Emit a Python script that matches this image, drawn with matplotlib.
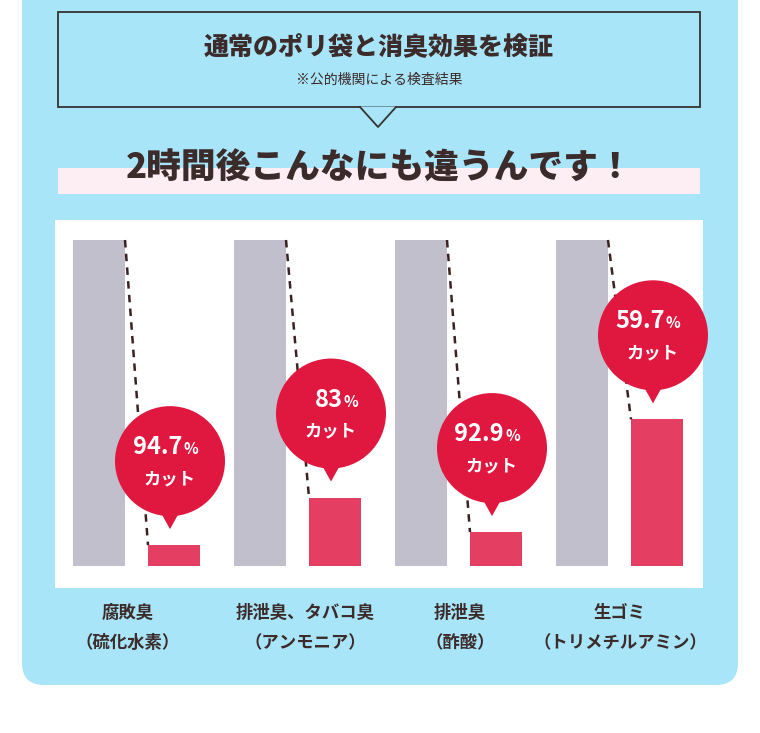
import matplotlib
matplotlib.use("Agg")
import matplotlib.pyplot as plt
from matplotlib.patches import FancyBboxPatch, Rectangle, Circle, Polygon

plt.rcParams['font.family'] = ['Noto Sans CJK JP', 'DejaVu Sans']

# data
categories = [("腐敗臭", "（硫化水素）"), ("排泄臭、タバコ臭", "（アンモニア）"),
              ("排泄臭", "（酢酸）"), ("生ゴミ", "（トリメチルアミン）")]
cut_labels = ["94.7", "83", "92.9", "59.7"]
normal = [100, 100, 100, 100]
remaining = [6.4, 21, 10.4, 45]   # bar heights as drawn, % of normal bag

BLUE = "#a9e5f8"
RED = "#e0173f"
PINK = "#e43f62"
GRAY = "#c1bfcb"
DARK = "#3b2b2b"

fig = plt.figure(figsize=(7.6, 7.33), dpi=100)
ax = fig.add_axes([0, 0, 1, 1])
ax.set_xlim(0, 760)
ax.set_ylim(733, 0)
ax.axis("off")

# background panel
ax.add_patch(FancyBboxPatch((22, -40), 716, 725, boxstyle="round,pad=0,rounding_size=22",
                            fc=BLUE, ec="none"))

# title box with pointer
ax.add_patch(Rectangle((58, 12), 642, 95, fc=BLUE, ec="#333333", lw=1.3))
ax.add_patch(Polygon([(360, 106.5), (396, 106.5), (378, 127)], closed=True, fc=BLUE, ec="none", zorder=3))
ax.plot([360, 378, 396], [107, 127, 107], color="#333333", lw=1.3, zorder=4)
ax.text(379, 47, "通常のポリ袋と消臭効果を検証", ha="center", va="center",
        fontsize=18, fontweight="heavy", color=DARK)
ax.text(379, 80, "※公的機関による検査結果", ha="center", va="center", fontsize=10, color=DARK)

# headline
ax.add_patch(Rectangle((58, 168), 642, 26, fc="#fdeef3", ec="none"))
ax.text(380, 168, "2時間後こんなにも違うんです！", ha="center", va="center",
        fontsize=25, fontweight="heavy", color=DARK)

# chart area
ax.add_patch(Rectangle((55, 220), 648, 368, fc="white", ec="none"))
base, top = 566, 240
scale = (base - top) / 100.0
step, x0, off, w = 161, 99, 75, 52

for i, (n, r) in enumerate(zip(normal, remaining)):
    gx = x0 + i * step
    px = gx + off
    gh = n * scale
    ph = r * scale
    ax.add_patch(Rectangle((gx - w / 2, base - gh), w, gh, fc=GRAY, ec="none"))
    ax.add_patch(Rectangle((px - w / 2, base - ph), w, ph, fc=PINK, ec="none"))
    ax.plot([gx + w / 2, px - w / 2], [base - gh, base - ph], color="#3b2222",
            lw=1.8, ls=(0, (3, 2.5)))
    # speech bubble
    cx = px - 4
    cy = base - ph - 84
    ax.add_patch(Circle((cx, cy), 55, fc=RED, ec="none", zorder=5))
    ax.add_patch(Polygon([(cx - 10, cy + 50), (cx + 10, cy + 50), (cx, cy + 68)],
                         closed=True, fc=RED, ec="none", zorder=5))
    ax.text(cx + 12, cy - 14, cut_labels[i], ha="right", va="center", fontsize=17,
            fontweight="bold", color="white", zorder=6)
    ax.text(cx + 13, cy - 12, "%", ha="left", va="center", fontsize=11,
            fontweight="bold", color="white", zorder=6)
    ax.text(cx, cy + 18, "カット", ha="center", va="center", fontsize=12.5,
            fontweight="bold", color="white", zorder=6)

# category labels
label_x = [128, 305, 460, 620]
for x, (l1, l2) in zip(label_x, categories):
    ax.text(x, 613, l1, ha="center", va="center", fontsize=12.5, fontweight="bold", color=DARK)
    ax.text(x, 643, l2, ha="center", va="center", fontsize=12.5, fontweight="bold", color=DARK)

fig.savefig("out.png", dpi=100, facecolor="white")
